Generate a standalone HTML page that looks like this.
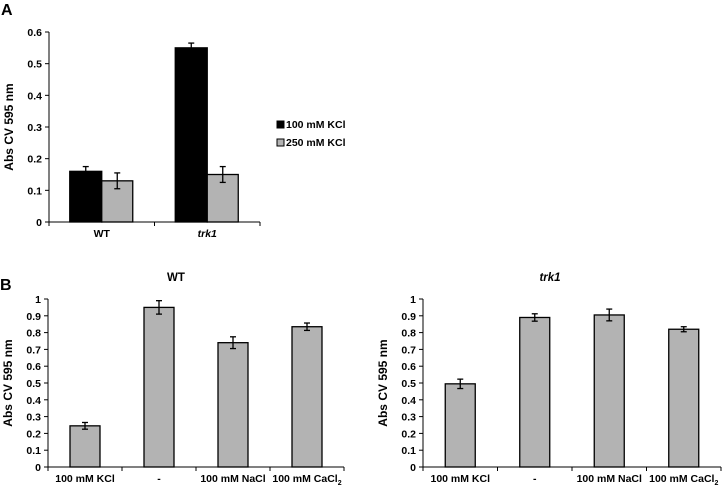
<!DOCTYPE html>
<html><head><meta charset="utf-8"><style>
body{margin:0;background:#fff;}
svg{display:block;font-family:"Liberation Sans",Arial,sans-serif;font-weight:bold;}
</style></head><body>
<svg id="s" width="723" height="486" xmlns="http://www.w3.org/2000/svg">
<text x="1" y="15" font-size="16">A</text>
<text x="0" y="290" font-size="16">B</text>
</svg>
<script>
const aCategories=["WT","trk1"];
const aSeries100=[0.16,0.55];
const aErr100=[0.015,0.015];
const aSeries250=[0.13,0.15];
const aErr250=[0.025,0.025];
const aTicks=[0,0.1,0.2,0.3,0.4,0.5,0.6];
const bCategories=["100 mM KCl","-","100 mM NaCl","100 mM CaCl2"];
const bWT=[0.245,0.95,0.74,0.835];
const bWTErr=[0.02,0.04,0.035,0.022];
const bTrk1=[0.495,0.89,0.905,0.82];
const bTrk1Err=[0.028,0.022,0.035,0.015];
const bTicks=[0,0.1,0.2,0.3,0.4,0.5,0.6,0.7,0.8,0.9,1];

const NS="http://www.w3.org/2000/svg";
const svg=document.getElementById('s');
function mk(tag,attrs,parent){const e=document.createElementNS(NS,tag);for(const k in attrs)e.setAttribute(k,attrs[k]);(parent||svg).appendChild(e);return e;}

function axes(g,x0,x1,y0,y1,ymax,ticks,cats,prefix,italicCat){
  const ys=v=>y0-(v/ymax)*(y0-y1);
  mk('line',{x1:x0,y1:y1,x2:x0,y2:y0,stroke:'#000','stroke-width':1},g);
  mk('line',{x1:x0,y1:y0,x2:x1,y2:y0,stroke:'#000','stroke-width':1},g);
  ticks.forEach(t=>{
    mk('line',{x1:x0-4,y1:ys(t),x2:x0,y2:ys(t),stroke:'#000'},g);
    const tx=mk('text',{x:x0-7,y:ys(t)+4,'font-size':10.5,'text-anchor':'end'},g);
    
    
    tx.textContent=String(t);
  });
  const cw=(x1-x0)/cats.length;
  for(let i=0;i<=cats.length;i++){mk('line',{x1:x0+i*cw,y1:y0,x2:x0+i*cw,y2:y0+4,stroke:'#000'},g);}
  cats.forEach((c,i)=>{
    const tx=mk('text',{x:x0+(i+0.5)*cw,y:y0+15,'font-size':10.5,'text-anchor':'middle'},g);
    
    
    if(italicCat)tx.setAttribute('font-style',i==1?'italic':'normal');
    if(c.endsWith('CaCl2')){tx.textContent='100 mM CaCl';const s=mk('tspan',{'font-size':7,dy:3},tx);s.textContent='2';}
    else tx.textContent=c;
  });
  return {ys,cw};
}
function bar(g,x,w,v,err,fill,ys,y0,name){
  const r=mk('rect',{x:x,y:ys(v),width:w,height:y0-ys(v),fill:fill,stroke:'#000','stroke-width':1.3},g);
  
  
  const cx=x+w/2;
  mk('line',{x1:cx,y1:ys(v+err),x2:cx,y2:ys(v-err),stroke:'#000','stroke-width':1.3},g);
  mk('line',{x1:cx-3,y1:ys(v+err),x2:cx+3,y2:ys(v+err),stroke:'#000','stroke-width':1.3},g);
  mk('line',{x1:cx-3,y1:ys(v-err),x2:cx+3,y2:ys(v-err),stroke:'#000','stroke-width':1.3},g);
}
function ytitle(g,x,y,name){
  const t=mk('text',{x:0,y:0,'font-size':12,'text-anchor':'middle',transform:`translate(${x},${y}) rotate(-90)`},g);
  
  
  t.textContent='Abs CV 595 nm';
}

// Panel A
const gA=mk('g',{});


const A=axes(gA,49,260,222,32,0.6,aTicks,aCategories,'panel-a',true);
ytitle(gA,13,127,'panel-a-y-axis-title');
aCategories.forEach((c,i)=>{
  const cx=49+(i+0.5)*A.cw;
  bar(gA,cx-32,32,aSeries100[i],aErr100[i],'#000',A.ys,222,'bar-100mm-kcl-'+c);
  bar(gA,cx,31,aSeries250[i],aErr250[i],'#b3b3b3',A.ys,222,'bar-250mm-kcl-'+c);
});
[['100 mM KCl','#000',125],['250 mM KCl','#b3b3b3',143]].forEach(([l,f,y])=>{
  const r=mk('rect',{x:277,y:y-4,width:7,height:7,fill:f,stroke:'#000','stroke-width':1},gA);
  
  
  const t=mk('text',{x:286,y:y+3,'font-size':10.5},gA);
  
  
  t.textContent=l;
});

// Panel B
function panelB(x0,x1,vals,errs,title,italic,prefix,titleX){
  const g=mk('g',{});
  
  
  const B=axes(g,x0,x1,467,299,1,bTicks,bCategories,prefix,false);
  ytitle(g,x0-36,383,prefix+'-y-axis-title');
  const t=mk('text',{x:titleX,y:281,'font-size':11.5,'text-anchor':'middle','font-style':italic?'italic':'normal'},g);
  
  
  t.textContent=title;
  bCategories.forEach((c,i)=>{
    const cx=x0+(i+0.5)*B.cw;
    bar(g,cx-15,30,vals[i],errs[i],'#b3b3b3',B.ys,467,prefix+'-bar-'+i);
  });
}
panelB(48,344,bWT,bWTErr,'WT',false,'panel-b-wt',176);
panelB(423,721,bTrk1,bTrk1Err,'trk1',true,'panel-b-trk1',550);
</script>
</body></html>
